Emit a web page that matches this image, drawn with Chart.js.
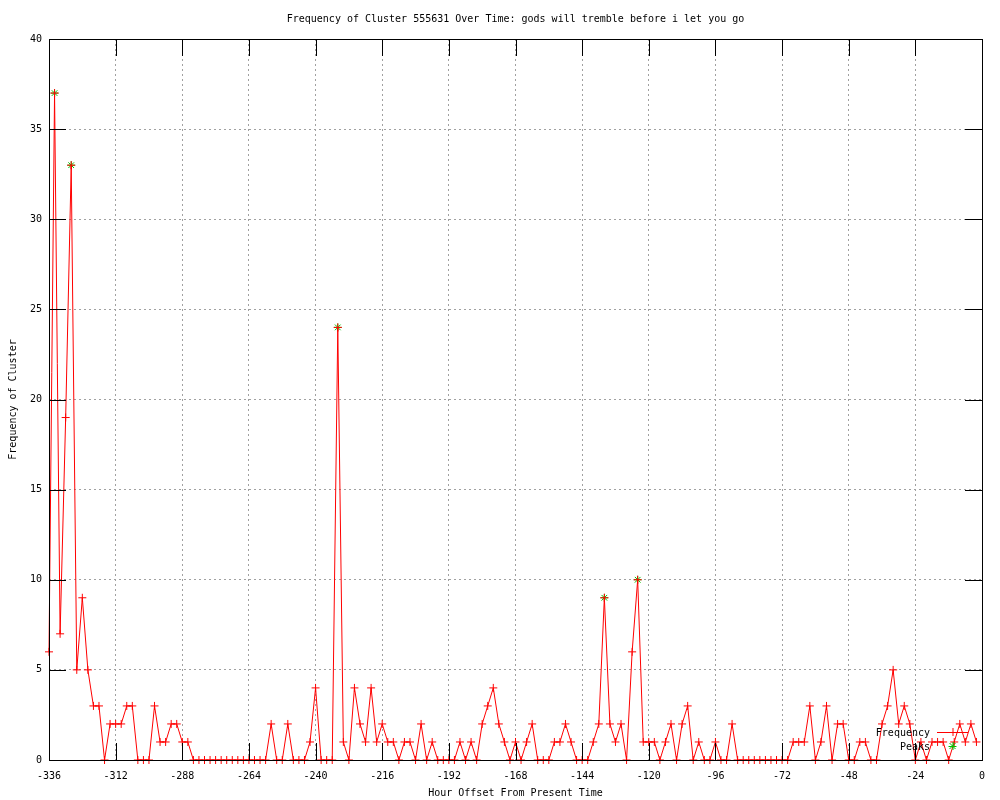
<!DOCTYPE html>
<html>
<head>
<meta charset="utf-8">
<title>Frequency of Cluster 555631</title>
<script src="https://cdn.jsdelivr.net/npm/chart.js@4.4.1/dist/chart.umd.min.js"></script>
<style>
  html, body { margin: 0; padding: 0; background: #ffffff; }
  #chart { display: block; }
</style>
</head>
<body>
<canvas id="chart" width="1000" height="800"></canvas>
<script>
// ── Data ───────────────────────────────────────────────────────────────────────

const hours = [
  -336, -334, -332, -330, -328, -326, -324, -322, -320, -318, -316, -314,
  -312, -310, -308, -306, -304, -302, -300, -298, -296, -294, -292, -290,
  -288, -286, -284, -282, -280, -278, -276, -274, -272, -270, -268, -266,
  -264, -262, -260, -258, -256, -254, -252, -250, -248, -246, -244, -242,
  -240, -238, -236, -234, -232, -230, -228, -226, -224, -222, -220, -218,
  -216, -214, -212, -210, -208, -206, -204, -202, -200, -198, -196, -194,
  -192, -190, -188, -186, -184, -182, -180, -178, -176, -174, -172, -170,
  -168, -166, -164, -162, -160, -158, -156, -154, -152, -150, -148, -146,
  -144, -142, -140, -138, -136, -134, -132, -130, -128, -126, -124, -122,
  -120, -118, -116, -114, -112, -110, -108, -106, -104, -102, -100,  -98,
   -96,  -94,  -92,  -90,  -88,  -86,  -84,  -82,  -80,  -78,  -76,  -74,
   -72,  -70,  -68,  -66,  -64,  -62,  -60,  -58,  -56,  -54,  -52,  -50,
   -48,  -46,  -44,  -42,  -40,  -38,  -36,  -34,  -32,  -30,  -28,  -26,
   -24,  -22,  -20,  -18,  -16,  -14,  -12,  -10,   -8,   -6,   -4,   -2
];

const frequency = [
  6, 37, 7, 19, 33, 5, 9, 5, 3, 3, 0, 2,
  2, 2, 3, 3, 0, 0, 0, 3, 1, 1, 2, 2,
  1, 1, 0, 0, 0, 0, 0, 0, 0, 0, 0, 0,
  0, 0, 0, 0, 2, 0, 0, 2, 0, 0, 0, 1,
  4, 0, 0, 0, 24, 1, 0, 4, 2, 1, 4, 1,
  2, 1, 1, 0, 1, 1, 0, 2, 0, 1, 0, 0,
  0, 0, 1, 0, 1, 0, 2, 3, 4, 2, 1, 0,
  1, 0, 1, 2, 0, 0, 0, 1, 1, 2, 1, 0,
  0, 0, 1, 2, 9, 2, 1, 2, 0, 6, 10, 1,
  1, 1, 0, 1, 2, 0, 2, 3, 0, 1, 0, 0,
  1, 0, 0, 2, 0, 0, 0, 0, 0, 0, 0, 0,
  0, 0, 1, 1, 1, 3, 0, 1, 3, 0, 2, 2,
  0, 0, 1, 1, 0, 0, 2, 3, 5, 2, 3, 2,
  0, 1, 0, 1, 1, 1, 0, 1, 2, 1, 2, 1
];

const peakHours  = [-334, -328, -232, -136, -124];
const peakValues = [37, 33, 24, 9, 10];

const xTickStep = 24;
const yTickStep = 5;

const TITLE   = 'Frequency of Cluster 555631 Over Time: gods will tremble before i let you go';
const X_TITLE = 'Hour Offset From Present Time';
const Y_TITLE = 'Frequency of Cluster';

// ── Style ──────────────────────────────────────────────────────────────────────

const FONT      = { family: '"DejaVu Sans Mono", "Liberation Mono", monospace', size: 10, weight: 'normal' };
const RED       = '#ff0000';
const GREEN     = '#00c000';
const GRID      = '#a0a0a0';
const TICK_LEN  = 17;

// ── Plugins ────────────────────────────────────────────────────────────────────

// border box + inward major ticks on all four sides (gnuplot look)
const framePlugin = {
  id: 'frame',
  afterDatasetsDraw(chart) {
    const { ctx, chartArea: a, scales: { x, y } } = chart;
    ctx.save();
    ctx.strokeStyle = '#000000';
    ctx.lineWidth = 1;
    ctx.beginPath();
    x.ticks.forEach(t => {
      const px = Math.round(x.getPixelForValue(t.value)) + 0.5;
      ctx.moveTo(px, a.bottom); ctx.lineTo(px, a.bottom - TICK_LEN);
      ctx.moveTo(px, a.top);    ctx.lineTo(px, a.top + TICK_LEN);
    });
    y.ticks.forEach(t => {
      const py = Math.round(y.getPixelForValue(t.value)) + 0.5;
      ctx.moveTo(a.left, py);  ctx.lineTo(a.left + TICK_LEN, py);
      ctx.moveTo(a.right, py); ctx.lineTo(a.right - TICK_LEN, py);
    });
    ctx.stroke();
    ctx.strokeRect(Math.round(a.left) + 0.5, Math.round(a.top) + 0.5,
                   Math.round(a.right - a.left), Math.round(a.bottom - a.top));
    ctx.restore();
  }
};

// key in the lower right corner, inside the plot
const keyPlugin = {
  id: 'key',
  afterDraw(chart) {
    const { ctx, chartArea: a } = chart;
    const textRight = a.right - 52;
    const lineL = a.right - 45, lineR = a.right - 14;
    const mid = (lineL + lineR) / 2;
    const row1 = a.bottom - 28, row2 = a.bottom - 14;

    ctx.save();
    ctx.font = `${FONT.size}px ${FONT.family}`;
    ctx.fillStyle = '#000000';
    ctx.textAlign = 'right';
    ctx.textBaseline = 'middle';
    ctx.fillText('Frequency', textRight, row1 + 1);
    ctx.fillText('Peaks', textRight, row2 + 1);

    ctx.lineWidth = 1;
    ctx.strokeStyle = RED;
    ctx.beginPath();
    ctx.moveTo(lineL, row1 + 0.5); ctx.lineTo(lineR, row1 + 0.5);
    ctx.moveTo(mid - 4, row1 + 0.5); ctx.lineTo(mid + 4, row1 + 0.5);
    ctx.moveTo(mid + 0.5, row1 - 4); ctx.lineTo(mid + 0.5, row1 + 4);
    ctx.stroke();

    ctx.strokeStyle = GREEN;
    ctx.beginPath();
    ctx.moveTo(mid - 4, row2 + 0.5); ctx.lineTo(mid + 4, row2 + 0.5);
    ctx.moveTo(mid + 0.5, row2 - 4); ctx.lineTo(mid + 0.5, row2 + 4);
    ctx.moveTo(mid - 3, row2 - 3);   ctx.lineTo(mid + 3, row2 + 3);
    ctx.moveTo(mid - 3, row2 + 3);   ctx.lineTo(mid + 3, row2 - 3);
    ctx.stroke();
    ctx.restore();
  }
};

// ── Chart ──────────────────────────────────────────────────────────────────────

const ctx = document.getElementById('chart').getContext('2d');

new Chart(ctx, {
  type: 'line',
  data: {
    datasets: [
      {
        label: 'Frequency',
        data: hours.map((h, i) => ({ x: h, y: frequency[i] })),
        borderColor: RED,
        borderWidth: 1,
        tension: 0,
        fill: false,
        pointStyle: 'cross',
        pointRadius: 4,
        pointBorderColor: RED,
        pointBorderWidth: 1,
        clip: false
      },
      {
        label: 'Peaks',
        data: peakHours.map((h, i) => ({ x: h, y: peakValues[i] })),
        showLine: false,
        borderColor: GREEN,
        pointStyle: 'star',
        pointRadius: 4,
        pointBorderColor: GREEN,
        pointBorderWidth: 1,
        clip: false
      }
    ]
  },
  options: {
    responsive: false,
    animation: false,
    devicePixelRatio: 1,
    layout: { padding: { top: 0, right: 18, bottom: 0, left: 0 } },
    plugins: {
      legend: { display: false },
      tooltip: { enabled: false },
      title: {
        display: true,
        text: TITLE,
        color: '#000000',
        font: FONT,
        fullSize: false,
        padding: { top: 13, bottom: 14 }
      }
    },
    scales: {
      x: {
        type: 'linear',
        min: -336,
        max: 0,
        ticks: {
          stepSize: xTickStep,
          color: '#000000',
          font: FONT,
          padding: 10,
          maxRotation: 0,
          autoSkip: false
        },
        grid: { color: GRID, lineWidth: 1, drawTicks: false },
        border: { display: false, dash: [2, 3] },
        title: { display: true, text: X_TITLE, color: '#000000', font: FONT, padding: { top: 0, bottom: 1 } },
        afterFit: s => { s.height = 40; }
      },
      y: {
        min: 0,
        max: 40,
        ticks: {
          stepSize: yTickStep,
          color: '#000000',
          font: FONT,
          padding: 7
        },
        grid: { color: GRID, lineWidth: 1, drawTicks: false },
        border: { display: false, dash: [2, 3] },
        title: { display: true, text: Y_TITLE, color: '#000000', font: FONT, padding: { top: 7, bottom: 0 } },
        afterFit: s => { s.width = 49; }
      }
    }
  },
  plugins: [framePlugin, keyPlugin]
});
</script>
</body>
</html>
